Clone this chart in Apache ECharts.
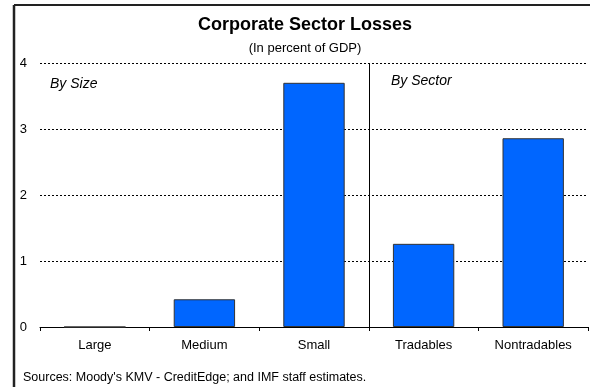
<!DOCTYPE html>
<html>
<head>
<meta charset="utf-8">
<script src="https://cdn.jsdelivr.net/npm/echarts@6/dist/echarts.min.js"></script>
<style>
  html, body { margin: 0; padding: 0; background: #fff; }
  #chart { width: 590px; height: 387px; }
</style>
</head>
<body>
<div id="chart"></div>
<script>
// Corporate sector losses, in percent of GDP
const categories = ['Large', 'Medium', 'Small', 'Tradables', 'Nontradables'];
const losses = [0, 0.42, 3.70, 1.26, 2.86];
const yTicks = [0, 1, 2, 3, 4];
const groupLabels = ['By Size', 'By Sector'];

const FONT = '"Liberation Sans", Arial, sans-serif';
const chart = echarts.init(document.getElementById('chart'), null, { renderer: 'canvas' });

// vertical divider only at the boundary between the size and sector groups
const splitColors = ['rgba(0,0,0,0)', 'rgba(0,0,0,0)', 'rgba(0,0,0,0)', '#000', 'rgba(0,0,0,0)', 'rgba(0,0,0,0)'];

chart.setOption({
  backgroundColor: '#fff',
  animation: false,
  textStyle: { fontFamily: FONT },
  title: [
    {
      text: 'Corporate Sector Losses',
      left: 300, top: 11, textAlign: 'center',
      textStyle: { fontFamily: FONT, fontSize: 18, fontWeight: 'bold', color: '#000' }
    },
    {
      text: '(In percent of GDP)',
      left: 300, top: 37, textAlign: 'center',
      textStyle: { fontFamily: FONT, fontSize: 13, fontWeight: 'normal', color: '#000' }
    },
    {
      text: 'Sources: Moody\'s KMV - CreditEdge; and IMF staff estimates.',
      left: 18, top: 366,
      textStyle: { fontFamily: FONT, fontSize: 12.5, fontWeight: 'normal', color: '#000' }
    }
  ],
  grid: { left: 40, right: 2, top: 63, bottom: 60, containLabel: false },
  xAxis: {
    type: 'category',
    data: categories,
    boundaryGap: true,
    axisLine: { show: true, lineStyle: { color: '#000', width: 1 } },
    axisTick: { show: true, inside: false, length: 4, lineStyle: { color: '#000' } },
    axisLabel: { color: '#000', fontSize: 13, fontFamily: FONT, margin: 12 },
    splitLine: { show: true, showMinLine: true, showMaxLine: true, lineStyle: { color: splitColors, width: 1, type: 'solid' } }
  },
  yAxis: {
    type: 'value',
    min: yTicks[0], max: yTicks[yTicks.length - 1], interval: 1,
    axisLine: { show: false },
    axisTick: { show: false },
    axisLabel: { color: '#000', fontSize: 13, fontFamily: FONT, margin: 13 },
    splitLine: { show: true, lineStyle: { color: '#000', width: 1, type: [2, 2] } }
  },
  series: [{
    type: 'bar',
    data: losses,
    barWidth: '56%',
    itemStyle: { color: '#0066FF', borderColor: '#333', borderWidth: 1 },
    z: 1
  }],
  graphic: [
    // frame along the top and left edges
    { type: 'line', shape: { x1: 14, y1: 5, x2: 590, y2: 5 }, style: { stroke: '#222', lineWidth: 2 }, z: 10 },
    { type: 'line', shape: { x1: 14, y1: 5, x2: 14, y2: 387 }, style: { stroke: '#222', lineWidth: 2.5 }, z: 10 },
    { type: 'text', left: 50, top: 77, style: { text: groupLabels[0], font: 'italic 14px ' + FONT, fill: '#000' } },
    { type: 'text', left: 391, top: 74, style: { text: groupLabels[1], font: 'italic 14px ' + FONT, fill: '#000' } }
  ]
});
</script>
</body>
</html>
